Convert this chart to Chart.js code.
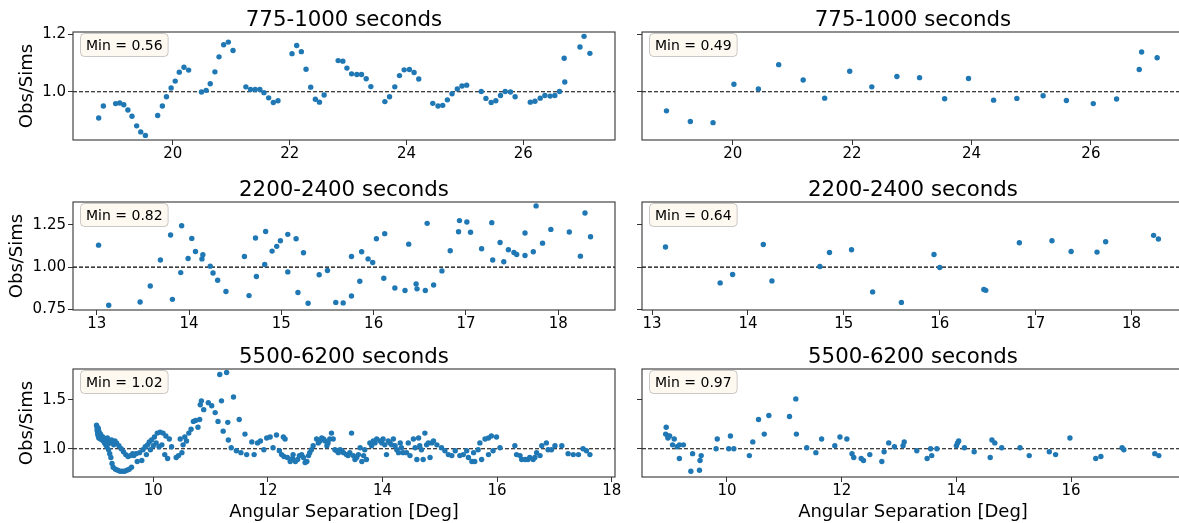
<!DOCTYPE html>
<html lang="en">
<head>
  <meta charset="UTF-8">
  <title>Obs/Sims vs angular separation</title>
  <script src="https://cdn.jsdelivr.net/npm/chart.js"></script>
  <style>
    html, body { margin: 0; padding: 0; background: #fff; }
    body { width: 1179px; height: 523px; position: relative; overflow: hidden; }
    canvas { position: absolute; }
  </style>
</head>
<body>
<script>
// ---- data: angular separation [deg] and Obs/Sims ratio per panel ----
const sep775Left = [
  18.73, 18.81, 19.02, 19.09, 19.16, 19.23, 19.30, 19.38, 19.45, 19.53,
  19.74, 19.82, 19.89, 19.97, 20.04, 20.11, 20.19, 20.27, 20.49, 20.57,
  20.64, 20.72, 20.79, 20.87, 20.95, 21.03, 21.25, 21.33, 21.41, 21.49,
  21.56, 21.64, 21.72, 21.80, 22.04, 22.12, 22.20, 22.28, 22.36, 22.44,
  22.51, 22.59, 22.83, 22.91, 22.98, 23.06, 23.15, 23.23, 23.31, 23.39,
  23.63, 23.71, 23.80, 23.88, 23.96, 24.05, 24.13, 24.21, 24.45, 24.54,
  24.62, 24.70, 24.78, 24.87, 24.95, 25.03, 25.28, 25.36, 25.45, 25.53,
  25.61, 25.69, 25.78, 25.86, 26.12, 26.20, 26.29, 26.37, 26.46, 26.54,
  26.62, 26.71, 26.70, 26.97, 27.04, 27.14
];
const ratio775Left = [
  0.909, 0.951, 0.959, 0.961, 0.955, 0.937, 0.915, 0.882, 0.861, 0.849,
  0.918, 0.951, 0.983, 1.013, 1.037, 1.068, 1.085, 1.075, 0.999, 1.005,
  1.028, 1.069, 1.121, 1.163, 1.172, 1.143, 1.017, 1.008, 1.008, 1.008,
  0.997, 0.979, 0.963, 0.969, 1.132, 1.160, 1.139, 1.078, 1.016, 0.974,
  0.964, 0.989, 1.108, 1.106, 1.082, 1.062, 1.060, 1.060, 1.045, 1.018,
  0.966, 0.983, 1.017, 1.056, 1.076, 1.077, 1.067, 1.044, 0.960, 0.951,
  0.953, 0.972, 0.993, 1.010, 1.020, 1.023, 1.001, 0.977, 0.963, 0.969,
  0.987, 1.001, 0.999, 0.983, 0.964, 0.967, 0.978, 0.987, 0.985, 0.987,
  1.001, 1.034, 1.116, 1.155, 1.192, 1.133
];
const sep775Right = [
  18.89, 19.29, 19.67, 20.02, 20.43, 20.77, 21.18, 21.54, 21.96, 22.33,
  22.75, 23.13, 23.55, 23.95, 24.37, 24.76, 25.20, 25.59, 26.04, 26.43,
  26.81, 26.85, 27.11
];
const ratio775Right = [
  0.934, 0.897, 0.893, 1.026, 1.010, 1.094, 1.041, 0.978, 1.071, 1.017,
  1.053, 1.049, 0.976, 1.046, 0.971, 0.977, 0.986, 0.970, 0.959, 0.975,
  1.077, 1.138, 1.118
];

const sep2200Left = [
  13.02, 13.13, 13.47, 13.58, 13.69, 13.80, 13.82, 13.91, 13.92, 13.99,
  14.03, 14.07, 14.14, 14.15, 14.23, 14.26, 14.31, 14.40, 14.60, 14.65,
  14.72, 14.73, 14.82, 14.83, 14.90, 14.95, 14.99, 15.07, 15.07, 15.16,
  15.18, 15.24, 15.29, 15.41, 15.50, 15.59, 15.67, 15.76, 15.76, 15.85,
  15.87, 15.94, 15.99, 16.03, 16.11, 16.12, 16.23, 16.34, 16.38, 16.46,
  16.47, 16.56, 16.58, 16.65, 16.74, 16.83, 16.92, 16.93, 17.01, 17.05,
  17.17, 17.28, 17.29, 17.37, 17.41, 17.46, 17.52, 17.55, 17.64, 17.64,
  17.73, 17.76, 17.83, 17.92, 18.12, 18.24, 18.29, 18.35
];
const ratio2200Left = [
  1.130, 0.775, 0.794, 0.889, 1.042, 1.190, 0.810, 0.968, 1.245, 1.051,
  1.170, 1.093, 1.049, 1.073, 1.006, 0.966, 0.923, 0.856, 1.063, 0.832,
  1.172, 0.945, 1.016, 1.211, 1.095, 1.123, 1.156, 0.972, 1.194, 1.168,
  0.850, 1.085, 0.787, 0.955, 0.980, 0.792, 0.789, 0.830, 1.063, 0.917,
  1.091, 1.049, 1.028, 1.168, 0.935, 1.198, 0.877, 0.862, 1.136, 0.901,
  0.872, 0.862, 1.259, 0.895, 0.978, 1.097, 1.209, 1.275, 1.267, 1.206,
  1.109, 1.263, 1.042, 1.146, 1.032, 1.103, 1.087, 1.075, 1.202, 1.069,
  1.091, 1.362, 1.142, 1.223, 1.208, 1.065, 1.320, 1.180
];
const sep2200Right = [
  13.14, 13.71, 13.84, 14.16, 14.25, 14.75, 14.85, 15.08, 15.30, 15.60,
  15.94, 16.00, 16.46, 16.48, 16.83, 17.17, 17.37, 17.64, 17.73, 18.23, 18.28
];
const ratio2200Right = [
  1.119, 0.907, 0.957, 1.134, 0.919, 1.004, 1.087, 1.103, 0.854, 0.792,
  1.075, 0.998, 0.868, 0.863, 1.144, 1.156, 1.093, 1.089, 1.150, 1.188, 1.166
];

const sep5500Left = [
  9.01, 9.02, 9.02, 9.03, 9.03, 9.04, 9.04, 9.05, 9.05, 9.06,
  9.06, 9.07, 9.08, 9.08, 9.09, 9.10, 9.11, 9.12, 9.13, 9.14,
  9.15, 9.16, 9.17, 9.18, 9.19, 9.20, 9.21, 9.22, 9.23, 9.24,
  9.25, 9.26, 9.27, 9.28, 9.30, 9.31, 9.33, 9.34, 9.36, 9.38,
  9.40, 9.42, 9.44, 9.46, 9.48, 9.50, 9.52, 9.54, 9.56, 9.58,
  9.60, 9.62, 9.64, 9.66, 9.70, 9.72, 9.76, 9.80, 9.82, 9.86,
  9.88, 9.90, 9.93, 9.95, 9.97, 10.00, 10.02, 10.05, 10.07, 10.10,
  10.12, 10.15, 10.17, 10.20, 10.22, 10.25, 10.28, 10.32, 10.40, 10.44,
  10.47, 10.50, 10.52, 10.55, 10.58, 10.62, 10.66, 10.70, 10.74, 10.78,
  10.81, 10.82, 10.84, 10.88, 10.96, 11.02, 11.08, 11.13, 11.16, 11.19,
  11.22, 11.28, 11.30, 11.31,
  11.36, 11.40, 11.45, 11.50, 11.53, 11.60, 11.63, 11.72, 11.76, 11.82,
  11.87, 11.93, 11.98, 12.04, 12.09, 12.15, 12.20, 12.24, 12.27, 12.28,
  12.30, 12.34, 12.39, 12.43, 12.44, 12.48, 12.52, 12.55,
  12.59, 12.62, 12.65, 12.68, 12.71, 12.73, 12.76, 12.79, 12.85, 12.88,
  12.91, 12.94, 12.97, 13.00, 13.03, 13.05, 13.08, 13.11, 13.14, 13.17,
  13.20, 13.23, 13.26, 13.29, 13.32, 13.37, 13.40, 13.43, 13.46, 13.49,
  13.52, 13.55, 13.58, 13.61, 13.64, 13.67, 13.69, 13.72, 13.78, 13.81,
  13.84, 13.87, 13.90, 13.96, 13.99, 14.01, 14.04, 14.07, 14.10, 14.13,
  14.16, 14.19, 14.22, 14.25, 14.28, 14.31, 14.33, 14.36, 14.42, 14.45,
  14.48, 14.54, 14.57, 14.60, 14.63, 14.65, 14.68, 14.71, 14.74, 14.77,
  14.80, 14.83, 14.86, 14.89, 14.95, 15.03, 15.09, 15.15, 15.21, 15.27,
  15.35, 15.41, 15.47, 15.50, 15.56, 15.59, 15.61, 15.67, 15.70, 15.73,
  15.79, 15.85, 15.90, 15.99, 15.85, 15.93, 16.05, 16.31, 16.34, 16.40,
  16.43, 16.49, 16.54, 16.57, 16.63, 16.66, 16.69, 16.75, 16.78, 16.86,
  16.89, 16.95, 17.01, 17.13, 17.24, 17.33, 17.42, 17.50, 17.56, 17.62
];
const ratio5500Left = [
  1.24, 1.22, 1.19, 1.17, 1.15, 1.21, 1.13, 1.18, 1.11, 1.16,
  1.14, 1.12, 1.10, 1.15, 1.13, 1.11, 1.09, 1.12, 1.08, 1.10,
  1.06, 1.09, 1.04, 1.07, 1.02, 1.11, 1.05, 0.99, 1.08, 0.95,
  1.06, 0.91, 1.09, 0.85, 0.81, 1.04, 1.08, 0.79, 1.06, 0.78,
  1.03, 0.77, 1.00, 0.77, 0.97, 0.77, 0.94, 0.78, 0.92, 0.79,
  0.93, 0.81, 0.95, 0.93, 0.95, 0.87, 0.96, 0.88, 0.99, 1.02,
  0.94, 1.04, 1.07, 0.99, 1.09, 1.03, 1.12, 1.06, 1.16, 1.02,
  1.17, 1.04, 1.16, 0.94, 1.13, 0.90, 1.10, 1.02, 0.91, 0.93,
  1.10, 0.96, 1.04, 1.12, 1.08, 1.16, 1.20, 1.28, 1.29, 1.22,
  1.30, 1.45, 1.49, 1.40, 1.47, 1.44, 1.37, 1.28, 1.76, 1.49,
  1.18, 1.78, 1.27, 1.09,
  1.01, 1.53, 0.98, 1.30, 0.96, 1.15, 0.94, 1.07, 0.94, 1.06,
  1.08, 0.99, 1.11, 1.12, 1.01, 1.14, 0.98, 0.94, 1.12, 0.92,
  1.10, 0.91, 0.87, 0.90, 0.94, 0.87, 0.89, 0.93,
  0.94, 0.91, 0.86, 0.87, 0.93, 0.96, 0.99, 1.03, 1.10, 1.06,
  1.08, 1.11, 1.10, 1.08, 1.03, 1.06, 1.10, 1.16, 1.10, 0.99,
  0.98, 0.96, 0.99, 0.98, 0.96, 0.94, 0.93, 0.96, 1.16, 0.93,
  0.89, 0.91, 0.94, 1.01, 0.87, 0.93, 0.99, 0.89, 1.06, 1.03,
  1.08, 1.06, 1.10, 1.08, 1.06, 1.10, 1.04, 0.94, 1.08, 1.06,
  1.04, 1.10, 1.03, 0.99, 0.96, 1.06, 1.01, 0.96, 0.96, 1.06,
  0.93, 1.10, 1.01, 0.89, 1.11, 1.03, 0.99, 0.89, 1.16, 1.04,
  1.06, 0.91, 1.06, 1.08, 1.04, 1.01, 0.98, 0.94, 0.93, 0.98,
  0.93, 0.94, 0.98, 0.91, 0.87, 0.96, 0.87, 0.99, 1.06, 0.89,
  1.10, 1.11, 1.13, 1.12, 0.94, 0.98, 1.01, 1.03, 0.94, 0.93,
  0.89, 0.89, 0.89, 0.91, 0.89, 0.91, 0.96, 0.93, 1.03, 1.06,
  0.99, 0.99, 1.03, 1.03, 0.95, 0.94, 0.94, 1.00, 0.98, 0.94
];
const sep5500Right = [
  8.94, 8.93, 8.97, 9.00, 8.97, 9.08, 9.05, 9.13, 9.17, 9.24,
  9.17, 9.37, 9.40, 9.52, 9.53, 9.55, 9.81, 9.83, 10.03, 10.06,
  10.12, 10.39, 10.45, 10.55, 10.65, 10.73, 11.09, 11.20, 11.21, 11.39,
  11.55, 11.65, 11.88, 11.97, 12.09, 12.18, 12.21, 12.34, 12.38, 12.49,
  12.70, 12.74, 12.82, 12.92, 13.07, 13.09, 13.31, 13.49, 13.55, 13.57,
  13.66, 14.00, 14.02, 14.04, 14.14, 14.31, 14.59, 14.62, 14.67, 14.79,
  15.11, 15.27, 15.62, 15.73, 15.98, 16.43, 16.52, 16.89, 16.92, 17.46,
  17.53
];
const ratio5500Right = [
  1.22, 1.15, 1.13, 1.13, 1.11, 1.10, 1.04, 1.02, 1.04, 1.04,
  0.90, 0.77, 0.95, 0.78, 0.88, 0.93, 1.00, 1.10, 1.00, 1.13,
  1.00, 0.93, 1.07, 1.30, 1.15, 1.34, 1.33, 1.51, 1.15, 1.01,
  0.96, 1.10, 1.03, 1.12, 1.10, 0.95, 0.91, 0.90, 0.88, 0.94,
  0.87, 0.97, 1.06, 1.02, 1.03, 1.07, 0.98, 0.90, 1.00, 0.93,
  1.00, 1.03, 1.06, 1.08, 1.01, 0.97, 0.91, 1.09, 1.06, 1.01,
  1.01, 0.93, 0.97, 0.94, 1.11, 0.90, 0.92, 1.01, 0.99, 0.95,
  0.93
];

const refLevel = 1.0;
const panelTitles = ['775-1000 seconds', '2200-2400 seconds', '5500-6200 seconds'];
const minLeft = [0.56, 0.82, 1.02];
const minRight = [0.49, 0.64, 0.97];
const xTicksTop = [20, 22, 24, 26];
const xTicksMid = [13, 14, 15, 16, 17, 18];
const xTicksBottom = [10, 12, 14, 16, 18];
const yTicksTop = [1.0, 1.2];
const yTicksMid = [0.75, 1.0, 1.25];
const yTicksBottom = [1.0, 1.5];

// ---- layout (page pixels) ----
const AREA_W = 542, AREA_H = 108;
const HEAD_H = 40, FOOT_H = 46, PAD_R = 22;

const rows = [
  { top: 32,  yMin: 0.833, yMax: 1.207, yTicks: yTicksTop,    yDec: 1, xTicks: xTicksTop,    labelPad: 16.2 },
  { top: 202, yMin: 0.747, yMax: 1.385, yTicks: yTicksMid,    yDec: 2, xTicks: xTicksMid,    labelPad: 6.4 },
  { top: 369, yMin: 0.711, yMax: 1.816, yTicks: yTicksBottom, yDec: 1, xTicks: xTicksBottom, labelPad: 16.2, xLabel: true }
];

const panels = [
  { row: 0, left: true,  xs: sep775Left,   ys: ratio775Left,   min: minLeft[0],  xMin: 18.29, xMax: 27.57 },
  { row: 0, left: false, xs: sep775Right,  ys: ratio775Right,  min: minRight[0], xMin: 18.48, xMax: 27.56 },
  { row: 1, left: true,  xs: sep2200Left,  ys: ratio2200Left,  min: minLeft[1],  xMin: 12.743, xMax: 18.615 },
  { row: 1, left: false, xs: sep2200Right, ys: ratio2200Right, min: minRight[1], xMin: 12.895, xMax: 18.547 },
  { row: 2, left: true,  xs: sep5500Left,  ys: ratio5500Left,  min: minLeft[2],  xMin: 8.599, xMax: 18.058 },
  { row: 2, left: false, xs: sep5500Right, ys: ratio5500Right, min: minRight[2], xMin: 8.518, xMax: 17.969 }
];

Chart.defaults.font.family = '"DejaVu Sans", sans-serif';
Chart.defaults.color = '#000';

// full box around the plotting area
const framePlugin = {
  id: 'frame',
  afterDatasetsDraw(chart) {
    const a = chart.chartArea, ctx = chart.ctx;
    ctx.save();
    ctx.strokeStyle = '#333';
    ctx.lineWidth = 1.1;
    ctx.strokeRect(a.left, a.top, a.right - a.left, a.bottom - a.top);
    ctx.restore();
  }
};

// "Min = x" label in a rounded box at the upper left
const minBoxPlugin = {
  id: 'minBox',
  afterDraw(chart, args, opts) {
    const a = chart.chartArea, ctx = chart.ctx;
    ctx.save();
    ctx.font = '14px "DejaVu Sans"';
    const w = ctx.measureText(opts.text).width + 11;
    const x = a.left + 7.5, y = a.top + 1.5, h = 23;
    ctx.beginPath();
    ctx.roundRect(x, y, w, h, 4);
    ctx.fillStyle = 'rgba(245, 222, 179, 0.2)';
    ctx.fill();
    ctx.strokeStyle = 'rgba(0, 0, 0, 0.2)';
    ctx.lineWidth = 1;
    ctx.stroke();
    ctx.fillStyle = '#000';
    ctx.textBaseline = 'alphabetic';
    ctx.fillText(opts.text, x + 5.5, y + 16.3);
    ctx.restore();
  }
};

function makePanel(p) {
  const r = rows[p.row];
  const axisW = p.left ? 73 : 14;
  const areaLeft = p.left ? 73 : 642;

  const canvas = document.createElement('canvas');
  canvas.width = axisW + AREA_W + PAD_R;
  canvas.height = HEAD_H + AREA_H + FOOT_H;
  canvas.style.left = (areaLeft - axisW) + 'px';
  canvas.style.top = (r.top - HEAD_H) + 'px';
  document.body.appendChild(canvas);

  const points = p.xs.map((x, i) => ({ x: x, y: p.ys[i] }));
  // only ticks that fall inside this panel's range
  const xTicks = r.xTicks.filter(v => v >= p.xMin && v <= p.xMax);

  new Chart(canvas, {
    type: 'scatter',
    data: {
      datasets: [
        {
          data: points,
          backgroundColor: '#1f77b4',
          borderWidth: 0,
          pointRadius: 2.7,
          pointHoverRadius: 2.7
        },
        {
          type: 'line',
          data: [{ x: p.xMin, y: refLevel }, { x: p.xMax, y: refLevel }],
          borderColor: '#000',
          borderWidth: 1.1,
          borderDash: [4, 2],
          pointRadius: 0,
          fill: false
        }
      ]
    },
    options: {
      responsive: false,
      animation: false,
      events: [],
      layout: { padding: { left: 0, right: PAD_R, top: 0, bottom: 0 }, autoPadding: false },
      plugins: {
        legend: { display: false },
        tooltip: { enabled: false },
        title: {
          display: true,
          text: panelTitles[p.row],
          fullSize: false,
          color: '#000',
          font: { size: 21.3, weight: 'normal', lineHeight: 1 },
          padding: { top: HEAD_H - 21.3 - 1, bottom: 1 }
        },
        minBox: { text: 'Min = ' + p.min.toFixed(2) }
      },
      scales: {
        x: {
          type: 'linear',
          min: p.xMin,
          max: p.xMax,
          afterFit: s => { s.height = FOOT_H; },
          afterBuildTicks: s => { s.ticks = xTicks.map(v => ({ value: v })); },
          ticks: { font: { size: 15 }, color: '#000', padding: 0, maxRotation: 0, callback: v => String(v) },
          grid: { drawOnChartArea: false, drawTicks: true, tickLength: 5, color: '#333' },
          border: { display: false },
          title: r.xLabel
            ? { display: true, text: 'Angular Separation [Deg]', color: '#000', font: { size: 18 }, padding: { top: 0, bottom: 0 } }
            : { display: false }
        },
        y: {
          min: r.yMin,
          max: r.yMax,
          afterFit: s => { s.width = axisW; },
          afterBuildTicks: s => { s.ticks = r.yTicks.map(v => ({ value: v })); },
          ticks: { display: p.left, font: { size: 15 }, color: '#000', padding: 2, callback: v => Number(v).toFixed(r.yDec) },
          grid: { drawOnChartArea: false, drawTicks: true, tickLength: 5, color: '#333' },
          border: { display: false },
          title: p.left
            ? { display: true, text: 'Obs/Sims', color: '#000', font: { size: 18 }, padding: { top: r.labelPad, bottom: 0 } }
            : { display: false }
        }
      }
    },
    plugins: [framePlugin, minBoxPlugin]
  });
}

panels.forEach(makePanel);
</script>
</body>
</html>
